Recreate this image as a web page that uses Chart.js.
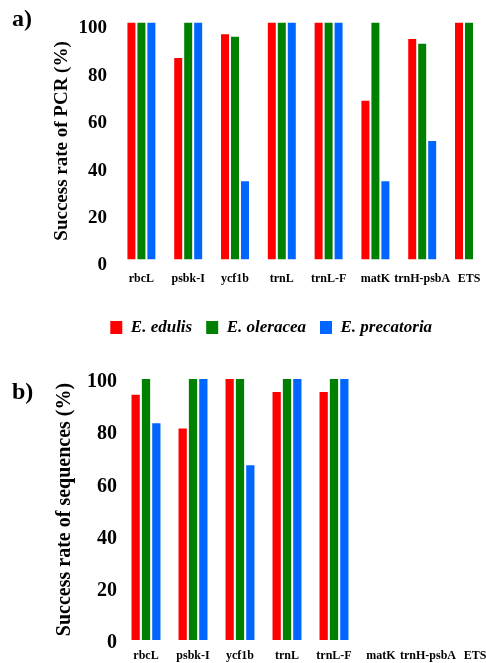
<!DOCTYPE html>
<html>
<head>
<meta charset="utf-8">
<script src="https://cdn.jsdelivr.net/npm/chart.js@4"></script>
<style>
  html, body { margin: 0; padding: 0; background: #fff; overflow: hidden; width: 486px; height: 663px; }
  .panel { position: relative; width: 505px; }
  canvas { display: block; }
  .tag { position: absolute; left: 12px; font: bold 24px "Liberation Serif", "Times New Roman", serif; color: #000; }
</style>
</head>
<body>
<div class="panel"><canvas id="pcr" width="505" height="346"></canvas><div class="tag" style="top:5px">a)</div></div>
<div class="panel"><canvas id="seq" width="505" height="317"></canvas><div class="tag" style="top:32px">b)</div></div>
<script>
var markers = ['rbcL', 'psbk-I', 'ycf1b', 'trnL', 'trnL-F', 'matK', 'trnH-psbA', 'ETS'];
var species = ['E. edulis', 'E. oleracea', 'E. precatoria'];
var colours = ['rgb(255,0,0)', 'rgb(0,128,0)', 'rgb(0,102,255)'];

// success rate of PCR (%)
var pcrEdulis = [100, 85, 95, 100, 100, 67, 93, 100];
var pcrOleracea = [100, 100, 94, 100, 100, 100, 91, 100];
var pcrPrecatoria = [100, 100, 33, 100, 100, 33, 50, null];

// success rate of sequences (%)
var seqEdulis = [94, 81, 100, 95, 95, null, null, null];
var seqOleracea = [100, 100, 100, 100, 100, null, null, null];
var seqPrecatoria = [83, 100, 67, 100, 100, null, null, null];

var serif = '"Liberation Serif", "Times New Roman", serif';

function makeSets(lists, catPct) {
  return lists.map(function (vals, i) {
    return {
      label: species[i],
      data: vals,
      backgroundColor: colours[i],
      borderWidth: 0,
      categoryPercentage: catPct,
      barPercentage: 0.8
    };
  });
}

function graph(id, lists, opts) {
  new Chart(document.getElementById(id), {
    type: 'bar',
    data: { labels: markers, datasets: makeSets(lists, opts.catPct) },
    options: {
      responsive: false,
      animation: false,
      layout: { padding: opts.padding },
      plugins: {
        tooltip: { enabled: false },
        legend: {
          display: opts.legend,
          position: 'bottom',
          labels: {
            boxWidth: 12,
            boxHeight: 13,
            padding: 14,
            color: '#000',
            font: { family: serif, size: 17, weight: 'bold', style: 'italic' }
          }
        }
      },
      scales: {
        x: {
          grid: { display: false, drawTicks: false },
          border: { display: false },
          ticks: {
            color: '#000', padding: opts.xPad, maxRotation: 0, autoSkip: false,
            font: { family: serif, size: 12, weight: 'bold' }
          },
          afterFit: function (s) { s.height = opts.xHeight; }
        },
        y: {
          min: 0, max: 100,
          grid: { display: false, drawTicks: false },
          border: { display: false },
          ticks: {
            stepSize: 20, color: '#000', padding: opts.yPad, labelOffset: opts.yOff,
            font: { family: serif, size: opts.tickSize, weight: 'bold' }
          },
          title: {
            display: true, text: opts.title, color: '#000',
            padding: { top: opts.titlePad, bottom: 0 },
            font: { family: serif, size: opts.titleSize, weight: 'bold', lineHeight: 1 }
          },
          afterFit: function (s) { s.width = opts.yWidth; }
        }
      }
    }
  });
}

graph('pcr', [pcrEdulis, pcrOleracea, pcrPrecatoria], {
  catPct: 0.64, legend: true,
  padding: { left: 50, right: 12.6, top: 17, bottom: 0 },
  xPad: 12, xHeight: 45.5, yPad: 11, yOff: 6, yWidth: 68, tickSize: 19,
  title: 'Success rate of PCR (%)', titleSize: 19, titlePad: 2.5
});

graph('seq', [seqEdulis, seqOleracea, seqPrecatoria], {
  catPct: 0.66, legend: false,
  padding: { left: 0, right: 6.5, top: 33, bottom: 0 },
  xPad: 9, xHeight: 23, yPad: 5.5, yOff: 3, yWidth: 122.5, tickSize: 20,
  title: 'Success rate of sequences (%)', titleSize: 20, titlePad: 55
});
</script>
</body>
</html>
